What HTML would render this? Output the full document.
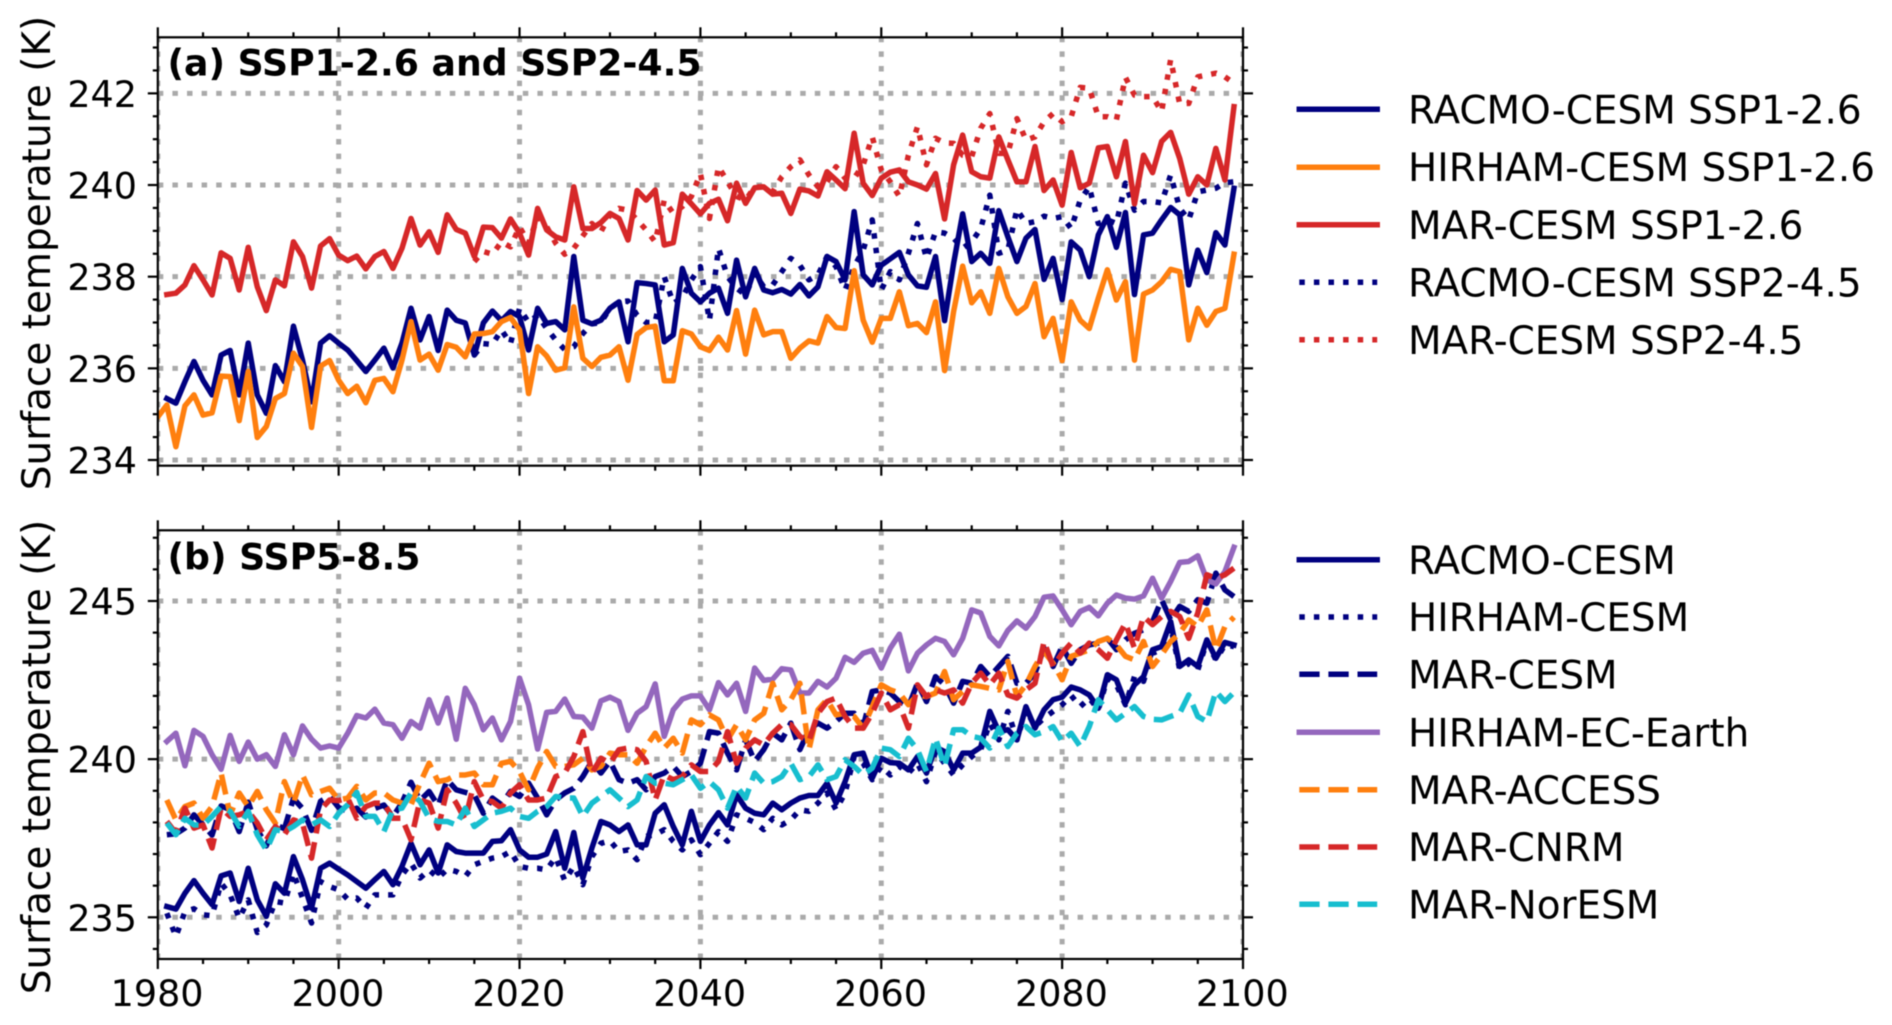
<!DOCTYPE html>
<html lang="en">
<head>
<meta charset="utf-8">
<title>Surface temperature projections</title>
<style>
html,body{margin:0;padding:0;background:#fff;width:1892px;height:1025px;overflow:hidden}
svg{display:block;filter:blur(0.4px)}
text{font-family:"DejaVu Sans",sans-serif;fill:#000}
.tk{font-size:36.5px}
.lg{font-size:38.9px}
.yl{font-size:39px}
.ttl{font-size:36.2px;font-weight:bold}
</style>
</head>
<body>
<svg id="chart" xmlns="http://www.w3.org/2000/svg" width="1892" height="1025" viewBox="0 0 1892 1025">
  <defs>
    <clipPath id="clip-a"><rect x="158" y="37.3" width="1085" height="428.4"/></clipPath>
    <clipPath id="clip-b"><rect x="158" y="530.3" width="1085" height="428.7"/></clipPath>
  </defs>
  <g id="panel-a"></g>
  <g id="panel-b"></g>

  <text class="ttl" x="167.5" y="75.5">(a) SSP1-2.6 and SSP2-4.5</text>
  <text class="ttl" x="167.5" y="569.5">(b) SSP5-8.5</text>
  <text class="yl" text-anchor="middle" transform="translate(50 253) rotate(-90)">Surface temperature (K)</text>
  <text class="yl" text-anchor="middle" transform="translate(50 757) rotate(-90)">Surface temperature (K)</text>

  <g>
    <g><line x1="1299.3" x2="1377.2" y1="109.3" y2="109.3" stroke="#000080" stroke-width="5.5" stroke-linecap="square"/><text class="lg" x="1408" y="123.5">RACMO-CESM SSP1-2.6</text></g>
    <g><line x1="1299.3" x2="1377.2" y1="167.3" y2="167.3" stroke="#ff7f0e" stroke-width="5.5" stroke-linecap="square"/><text class="lg" x="1408" y="181.2">HIRHAM-CESM SSP1-2.6</text></g>
    <g><line x1="1299.3" x2="1377.2" y1="224.7" y2="224.7" stroke="#d62728" stroke-width="5.5" stroke-linecap="square"/><text class="lg" x="1408" y="239">MAR-CESM SSP1-2.6</text></g>
    <g><line x1="1299.3" x2="1377.2" y1="282.3" y2="282.3" stroke="#000080" stroke-width="5.5" stroke-dasharray="5.5 9.1"/><text class="lg" x="1408" y="296.5">RACMO-CESM SSP2-4.5</text></g>
    <g><line x1="1299.3" x2="1377.2" y1="339.7" y2="339.7" stroke="#d62728" stroke-width="5.5" stroke-dasharray="5.5 9.1"/><text class="lg" x="1408" y="354">MAR-CESM SSP2-4.5</text></g>
  </g>
  <g>
    <g><line x1="1299.3" x2="1377.2" y1="559.7" y2="559.7" stroke="#000080" stroke-width="5.5" stroke-linecap="square"/><text class="lg" x="1408" y="574">RACMO-CESM</text></g>
    <g><line x1="1299.3" x2="1377.2" y1="617" y2="617" stroke="#000080" stroke-width="5.5" stroke-dasharray="5.5 9.1"/><text class="lg" x="1408" y="631.2">HIRHAM-CESM</text></g>
    <g><line x1="1299.3" x2="1377.2" y1="674.3" y2="674.3" stroke="#000080" stroke-width="5.5" stroke-dasharray="20.3 8.8"/><text class="lg" x="1408" y="688.5">MAR-CESM</text></g>
    <g><line x1="1299.3" x2="1377.2" y1="732.3" y2="732.3" stroke="#9467bd" stroke-width="5.5" stroke-linecap="square"/><text class="lg" x="1408" y="746.5">HIRHAM-EC-Earth</text></g>
    <g><line x1="1299.3" x2="1377.2" y1="789.7" y2="789.7" stroke="#ff7f0e" stroke-width="5.5" stroke-dasharray="20.3 8.8"/><text class="lg" x="1408" y="804">MAR-ACCESS</text></g>
    <g><line x1="1299.3" x2="1377.2" y1="847" y2="847" stroke="#d62728" stroke-width="5.5" stroke-dasharray="20.3 8.8"/><text class="lg" x="1408" y="861.2">MAR-CNRM</text></g>
    <g><line x1="1299.3" x2="1377.2" y1="904.3" y2="904.3" stroke="#17becf" stroke-width="5.5" stroke-dasharray="20.3 8.8"/><text class="lg" x="1408" y="918.5">MAR-NorESM</text></g>
  </g>
</svg>
<script>
// Axis ticks and labels
const xMajorTicks = [1980, 2000, 2020, 2040, 2060, 2080, 2100];
const xMinorTicks = [1985, 1990, 1995, 2005, 2010, 2015, 2025, 2030, 2035, 2045, 2050, 2055, 2065, 2070, 2075, 2085, 2090, 2095];
const yMajorTicksA = [234, 236, 238, 240, 242];
const yMinorTicksA = [234.5, 235, 235.5, 236.5, 237, 237.5, 238.5, 239, 239.5, 240.5, 241, 241.5, 242.5, 243];
const yMajorTicksB = [235, 240, 245];
const yMinorTicksB = [234, 236, 237, 238, 239, 241, 242, 243, 244, 246, 247];

// Panel (a) series, K per year
const racmoSsp126Start = 1981;
const racmoSsp126 = [
235.34,235.24,235.71,236.15,235.74,235.42,236.29,236.39,235.42,236.55,
235.42,235.02,236.06,235.71,236.92,236.18,235.27,236.55,236.71,236.55,
236.40,236.17,235.93,236.18,236.44,236.01,236.55,237.31,236.62,237.13,
236.39,237.27,237.05,236.99,236.29,236.99,237.25,237.04,237.24,237.13,
236.40,237.31,236.98,237.02,236.84,238.44,237.05,236.97,237.05,237.31,
237.45,236.58,237.87,237.85,237.82,236.58,236.73,238.18,237.64,237.45,
237.64,237.75,237.20,238.36,237.56,238.18,237.71,237.65,237.72,237.62,
237.83,237.58,237.78,238.44,238.33,237.93,239.42,238.04,237.82,238.25,
238.39,238.53,238.04,237.80,237.77,238.44,237.04,238.29,239.37,238.33,
238.51,238.29,239.44,238.87,238.33,238.84,239.03,237.94,238.40,237.50,
238.76,238.58,238.00,238.91,239.31,238.64,239.40,237.61,238.91,238.95,
239.24,239.51,239.35,237.82,238.58,238.09,238.96,238.69,239.93];
const hirhamSsp126Start = 1980;
const hirhamSsp126 = [234.94,
235.20,234.29,235.18,235.42,234.98,235.03,235.83,235.82,234.86,235.93,
234.49,234.73,235.34,235.45,236.33,236.04,234.71,236.05,236.17,235.74,
235.45,235.61,235.25,235.74,235.78,235.49,236.18,237.02,236.18,236.31,
235.96,236.52,236.46,236.25,236.75,236.76,236.80,237.02,237.11,236.84,
235.45,236.47,236.27,235.96,236.01,237.34,236.22,236.04,236.24,236.29,
236.47,235.74,236.74,236.89,236.92,235.73,235.73,236.82,236.75,236.47,
236.39,236.68,236.40,237.26,236.31,237.27,236.73,236.80,236.80,236.22,
236.44,236.60,236.55,237.13,236.89,236.87,238.13,237.05,236.57,237.09,
237.09,237.67,236.93,236.98,236.78,237.45,235.95,237.24,238.23,237.43,
237.67,237.20,238.18,237.56,237.20,237.35,237.85,236.69,237.09,236.17,
237.45,237.05,236.87,237.53,238.15,237.49,237.89,236.18,237.62,237.71,
237.89,238.16,238.11,236.62,237.31,236.94,237.24,237.31,238.49];
const marSsp126Start = 1981;
const marSsp126 = [
237.61,237.64,237.82,238.24,237.93,237.60,238.52,238.40,237.71,238.64,
237.78,237.26,237.93,237.80,238.76,238.44,237.75,238.67,238.83,238.47,
238.35,238.45,238.17,238.44,238.55,238.18,238.62,239.27,238.69,238.98,
238.53,239.35,239.03,238.95,238.44,239.08,239.07,238.84,239.26,238.95,
238.47,239.49,239.02,238.87,238.80,239.96,239.05,239.05,239.18,239.38,
239.27,238.80,239.88,239.67,239.89,238.69,238.74,239.80,239.59,239.37,
239.60,239.69,239.22,240.04,239.60,239.94,239.96,239.80,239.82,239.38,
239.91,239.87,239.76,240.29,240.11,239.92,241.13,240.04,239.77,240.15,
240.28,240.33,240.07,240.00,239.91,240.25,239.26,240.44,241.09,240.29,
240.18,240.15,241.05,240.55,240.07,240.07,240.84,239.88,240.11,239.56,
240.71,239.94,240.04,240.81,240.84,240.18,240.95,239.59,240.65,240.27,
240.95,241.15,240.58,239.80,240.18,240.00,240.80,240.11,241.71];
const racmoSsp245Start = 2015;
const racmoSsp245 = [
236.29,236.54,236.52,236.84,236.54,237.31,
237.00,237.16,236.87,236.62,236.41,236.47,236.76,236.97,237.00,237.31,
237.45,237.47,237.16,237.00,237.00,238.00,237.42,237.54,237.93,238.22,
237.04,238.62,238.00,237.75,237.60,238.07,237.78,237.82,238.11,238.40,
238.25,237.93,238.04,238.44,238.22,237.71,238.22,238.58,239.24,237.71,
238.11,237.93,238.51,239.16,238.40,238.98,238.95,238.84,238.62,238.76,
239.05,239.78,238.51,238.58,239.47,239.16,239.20,239.32,239.27,239.31,
239.05,239.67,239.96,239.16,239.24,239.16,240.04,239.45,239.64,239.64,
239.61,240.22,239.49,239.24,239.85,239.89,239.93,240.05,240.07];
const marSsp245Start = 2015;
const marSsp245 = [
238.33,238.55,238.49,238.76,238.65,239.09,
238.73,239.31,239.09,238.73,238.49,238.62,238.89,239.16,238.98,239.35,
239.49,239.45,239.24,239.02,238.76,239.67,239.38,239.53,239.75,240.25,
239.27,240.40,240.07,239.75,239.67,239.96,239.96,239.85,240.18,240.40,
240.55,240.22,239.96,240.07,240.40,240.15,240.15,240.44,241.05,240.33,
240.07,239.75,240.65,241.27,240.44,241.02,240.92,240.91,240.65,240.62,
241.24,241.56,240.69,240.69,241.45,240.98,241.05,241.38,241.56,241.38,
241.49,242.13,242.11,241.49,241.49,241.42,242.35,241.96,241.93,241.93,
241.60,242.74,241.77,241.78,242.36,242.40,242.44,242.36,242.22];

// Panel (b) series, K per year from 1981
const ssp585Start = 1981;
const racmoCesm = [
235.34,235.26,235.76,236.16,235.76,235.40,236.31,236.40,235.50,236.55,
235.55,235.03,236.06,235.76,236.92,236.19,235.29,236.55,236.71,236.52,
236.34,236.13,235.92,236.19,236.45,236.03,236.61,237.34,236.66,237.13,
236.40,237.29,237.08,237.03,237.03,237.03,237.40,237.42,237.77,237.13,
236.90,236.90,237.00,237.71,236.55,237.68,236.24,237.19,238.03,237.92,
237.71,237.92,237.29,237.29,238.29,238.56,237.87,237.29,238.35,237.40,
237.92,238.31,237.92,238.87,238.45,238.29,238.24,238.61,238.40,238.61,
238.77,238.85,238.85,239.24,238.61,239.29,240.14,240.19,239.40,240.03,
239.89,239.87,239.66,240.08,239.56,240.38,240.24,239.66,240.19,240.19,
240.38,241.51,240.87,240.93,240.61,241.66,240.98,241.56,241.88,241.96,
242.28,242.19,242.03,241.61,242.67,242.51,241.77,242.35,242.61,243.46,
243.56,244.35,242.93,243.14,242.93,243.77,243.19,243.69,243.61];
const hirhamCesm = [
235.13,234.39,235.18,235.27,235.08,235.05,236.08,235.71,234.97,235.55,
234.52,234.76,235.50,235.45,236.40,235.61,234.82,236.13,235.97,235.87,
235.57,235.61,235.29,235.71,235.71,235.71,236.34,236.71,236.24,236.50,
236.24,236.52,236.45,236.29,236.66,236.77,236.87,236.92,237.08,236.61,
236.55,236.55,236.50,236.90,236.16,236.61,236.03,236.92,237.34,237.42,
237.08,237.13,236.82,237.56,237.61,237.77,237.40,237.13,237.45,236.98,
237.34,237.71,237.40,238.24,238.13,238.00,237.77,238.13,237.92,238.08,
238.40,238.35,238.61,238.93,238.40,238.93,240.08,239.87,239.35,239.77,
239.50,239.77,239.56,239.87,239.29,240.24,239.87,239.50,239.82,240.08,
240.30,241.14,240.61,241.51,240.61,241.56,241.03,241.30,241.51,241.72,
242.01,241.66,241.93,241.56,242.56,242.35,241.72,242.61,242.46,243.35,
243.46,244.19,242.84,243.03,242.82,243.72,243.14,243.61,243.56];
const marCesm = [
237.61,237.64,237.82,238.24,237.93,237.60,238.52,238.40,237.71,238.64,
237.78,237.26,237.93,237.80,238.76,238.44,237.75,238.67,238.83,238.47,
238.35,238.45,238.17,238.44,238.55,238.18,238.62,239.27,238.69,238.98,
238.53,239.35,239.03,238.95,238.87,238.29,238.77,238.56,238.98,238.82,
239.24,238.77,238.24,238.71,238.93,239.08,239.45,239.93,239.56,239.93,
239.35,239.24,239.35,239.03,239.45,239.56,239.77,239.45,239.61,239.87,
240.87,240.82,240.19,239.66,240.61,239.93,240.30,240.82,240.61,241.14,
240.30,240.93,241.14,240.98,241.19,241.45,241.45,241.03,242.14,242.19,
242.09,241.82,241.66,242.40,241.82,242.61,242.35,241.77,242.46,242.40,
242.93,242.61,242.93,243.25,242.40,242.40,242.72,243.51,242.93,243.56,
243.03,243.46,243.61,243.67,243.82,243.46,243.77,243.98,244.09,244.35,
245.04,244.40,244.83,244.67,245.04,244.93,245.88,245.35,245.14];
const hirhamEcEarth = [
240.56,240.82,239.79,240.91,240.72,240.14,239.68,240.75,239.93,240.54,
240.00,240.14,239.77,240.77,240.14,241.05,240.63,240.35,240.42,240.35,
240.82,241.38,241.30,241.58,241.14,241.09,240.66,241.19,240.98,241.88,
241.14,241.93,240.63,242.24,241.72,240.93,241.30,240.61,241.19,242.56,
241.72,240.32,241.48,241.51,241.90,241.35,241.33,240.98,241.84,241.96,
241.82,240.91,241.45,241.66,242.38,240.72,241.56,241.90,242.00,242.00,
241.56,242.42,242.03,242.40,241.51,242.88,242.49,242.53,242.86,242.82,
242.09,242.09,242.46,242.28,242.56,243.22,243.06,243.35,243.44,242.88,
243.51,243.95,242.79,243.35,243.61,243.82,243.72,243.30,243.82,244.72,
244.62,243.88,243.58,244.07,244.37,244.14,244.51,245.12,245.16,244.72,
244.25,244.67,244.80,244.53,244.93,245.19,245.09,245.06,245.16,245.72,
245.09,245.62,246.22,246.25,246.43,245.67,245.54,245.93,246.70];
const marAccess = [
238.71,238.08,238.50,238.61,238.13,238.50,239.56,238.24,238.93,238.50,
238.98,238.40,237.98,239.29,238.61,239.50,238.87,238.98,239.08,238.71,
238.77,239.14,238.71,238.93,238.93,238.71,238.61,238.56,239.24,239.87,
239.29,239.35,239.50,239.50,239.56,239.19,239.19,239.87,239.93,239.61,
239.03,239.72,240.24,239.77,239.77,239.82,240.03,239.66,239.77,240.19,
240.14,240.14,239.87,240.40,240.82,240.35,240.66,240.19,241.24,241.09,
241.40,241.24,240.61,241.09,240.61,241.24,241.45,242.40,241.56,241.88,
242.40,240.30,241.56,241.88,241.40,241.45,241.35,240.98,241.66,242.35,
242.19,242.09,241.72,242.03,241.98,242.09,242.77,241.88,242.14,242.35,
242.30,242.24,242.19,243.09,241.98,242.35,242.93,243.40,243.03,242.51,
243.25,243.35,243.46,243.72,243.82,243.61,243.25,243.14,243.72,242.93,
243.30,243.72,243.98,244.40,244.19,244.72,243.46,244.19,244.49];
const marCnrm = [
238.03,237.66,238.45,237.82,237.92,237.19,238.45,238.19,238.24,238.35,
237.98,237.45,237.87,237.61,238.08,237.98,236.87,238.40,238.71,238.69,
238.77,238.13,238.50,238.61,238.61,238.13,238.13,237.45,238.71,238.61,
237.82,239.03,238.61,238.08,239.29,238.71,238.66,238.45,238.93,239.19,
238.71,238.71,238.77,239.45,239.56,240.08,240.87,239.56,240.03,239.87,
240.30,240.35,240.30,239.93,238.71,239.50,239.35,239.45,239.82,239.61,
239.61,239.93,240.87,239.87,240.35,240.61,240.45,240.82,241.09,241.09,
240.72,240.56,241.45,241.82,241.93,241.35,240.98,240.98,241.45,242.09,
241.56,241.72,240.98,242.35,241.98,242.19,242.09,242.19,241.77,242.40,
242.72,242.35,242.72,242.03,241.93,242.19,242.40,243.72,242.93,243.35,
243.67,243.35,243.67,243.46,243.19,243.77,244.30,243.51,244.51,244.25,
244.51,244.67,244.51,243.82,244.62,245.83,245.72,245.83,246.04];
const marNoresm = [
237.98,237.61,238.13,237.92,237.92,238.19,238.50,238.35,237.87,238.35,
237.61,237.13,237.77,237.71,237.87,238.08,237.92,238.08,237.87,238.29,
238.56,238.95,238.19,238.19,237.71,238.40,238.45,238.93,238.66,238.13,
238.03,238.03,237.92,238.45,237.87,238.08,238.29,238.35,238.45,238.19,
238.13,238.35,238.50,238.82,238.77,238.77,238.19,238.61,238.82,239.03,
238.77,238.50,238.71,239.45,239.24,239.24,239.19,239.35,239.50,239.08,
239.29,239.03,238.45,239.14,238.77,239.56,239.24,239.29,239.45,239.87,
239.35,239.45,239.82,239.35,239.45,239.98,239.77,239.50,239.72,240.35,
240.30,240.08,240.66,240.30,239.61,240.66,239.77,240.93,240.93,240.72,
240.66,240.35,240.98,240.40,240.82,241.03,240.77,240.87,241.03,240.56,
240.82,240.40,241.03,241.88,241.56,241.24,241.45,241.66,241.35,241.26,
241.24,241.35,241.45,242.03,241.35,241.19,242.14,241.82,242.11];

const SVGNS = 'http://www.w3.org/2000/svg';
const GRID_COLOR = '#aaaaaa';
const SOLID = 'none';
const DOTTED = '5.5 9.1';
const DASHED = '20.3 8.8';
const plotLeft = 157.8, plotRight = 1243;
function xScale(year) { return plotLeft + (year - 1980) * (plotRight - plotLeft) / 120; }
function yScaleA(k) { return 460 - (k - 234) * 45.83; }
function yScaleB(k) { return 917.3 - (k - 235) * 31.63; }

function mk(parent, tag, attrs) {
  const el = document.createElementNS(SVGNS, tag);
  for (const key in attrs) el.setAttribute(key, attrs[key]);
  parent.appendChild(el);
  return el;
}

function drawSeries(parent, clipId, yScale, start, values, color, dash, name) {
  const pts = values.map(function (v, i) {
    return xScale(start + i).toFixed(2) + ',' + yScale(v).toFixed(2);
  }).join(' ');
  const el = mk(parent, 'polyline', {
    points: pts, fill: 'none', stroke: color, 'stroke-width': 5.5,
    'stroke-linejoin': 'round', 'stroke-linecap': dash === SOLID ? 'square' : 'butt',
    'stroke-dasharray': dash, 'clip-path': 'url(#' + clipId + ')'
  });
  
  
}

function drawFrame(panel, clipId, top, bottom, yScale, yMajor) {
  const grid = mk(panel, 'g', { 'clip-path': 'url(#' + clipId + ')' });
  
  
  yMajor.forEach(function (t) {
    const g = mk(grid, 'line', { x1: plotLeft, x2: plotRight, y1: yScale(t), y2: yScale(t), stroke: GRID_COLOR, 'stroke-width': 5, 'stroke-dasharray': DOTTED });
    
    
  });
  xMajorTicks.forEach(function (t) {
    const g = mk(grid, 'line', { x1: xScale(t), x2: xScale(t), y1: bottom, y2: top, stroke: GRID_COLOR, 'stroke-width': 5, 'stroke-dasharray': DOTTED });
    
    
  });
}

function drawAxes(panel, top, bottom, yScale, yMajor, yMinor, showXLabels) {
  const axes = mk(panel, 'g', { stroke: '#000', 'stroke-width': 2.2 });
  
  
  const frame = mk(axes, 'rect', { x: plotLeft, y: top, width: plotRight - plotLeft, height: bottom - top, fill: 'none' });
  
  
  xMajorTicks.forEach(function (t) {
    mk(axes, 'line', { x1: xScale(t), x2: xScale(t), y1: top, y2: top - 10 });
    mk(axes, 'line', { x1: xScale(t), x2: xScale(t), y1: bottom, y2: bottom + 10 });
  });
  xMinorTicks.forEach(function (t) {
    mk(axes, 'line', { x1: xScale(t), x2: xScale(t), y1: top, y2: top - 5 });
    mk(axes, 'line', { x1: xScale(t), x2: xScale(t), y1: bottom, y2: bottom + 5 });
  });
  yMajor.forEach(function (t) {
    mk(axes, 'line', { x1: plotLeft, x2: plotLeft - 10, y1: yScale(t), y2: yScale(t) });
    mk(axes, 'line', { x1: plotRight, x2: plotRight + 10, y1: yScale(t), y2: yScale(t) });
    const lab = mk(panel, 'text', { x: 137, y: yScale(t) + 13.5, 'text-anchor': 'end', class: 'tk' });
    
    
    lab.textContent = String(t);
  });
  yMinor.forEach(function (t) {
    mk(axes, 'line', { x1: plotLeft, x2: plotLeft - 5, y1: yScale(t), y2: yScale(t) });
    mk(axes, 'line', { x1: plotRight, x2: plotRight + 5, y1: yScale(t), y2: yScale(t) });
  });
  if (showXLabels) {
    xMajorTicks.forEach(function (t) {
      const lab = mk(panel, 'text', { x: xScale(t) - 0.7, y: 1006, 'text-anchor': 'middle', class: 'tk' });
      
      
      lab.textContent = String(t);
    });
  }
}

const panelA = document.getElementById('panel-a');
drawFrame(panelA, 'clip-a', 37.3, 465.7, yScaleA, yMajorTicksA);
drawSeries(panelA, 'clip-a', yScaleA, racmoSsp245Start, racmoSsp245, '#000080', DOTTED, 'series-racmo-cesm-ssp245');
drawSeries(panelA, 'clip-a', yScaleA, marSsp245Start, marSsp245, '#d62728', DOTTED, 'series-mar-cesm-ssp245');
drawSeries(panelA, 'clip-a', yScaleA, racmoSsp126Start, racmoSsp126, '#000080', SOLID, 'series-racmo-cesm-ssp126');
drawSeries(panelA, 'clip-a', yScaleA, hirhamSsp126Start, hirhamSsp126, '#ff7f0e', SOLID, 'series-hirham-cesm-ssp126');
drawSeries(panelA, 'clip-a', yScaleA, marSsp126Start, marSsp126, '#d62728', SOLID, 'series-mar-cesm-ssp126');
drawAxes(panelA, 37.3, 465.7, yScaleA, yMajorTicksA, yMinorTicksA, false);

const panelB = document.getElementById('panel-b');
drawFrame(panelB, 'clip-b', 530.3, 959, yScaleB, yMajorTicksB);
drawSeries(panelB, 'clip-b', yScaleB, ssp585Start, racmoCesm, '#000080', SOLID, 'series-racmo-cesm');
drawSeries(panelB, 'clip-b', yScaleB, ssp585Start, hirhamCesm, '#000080', DOTTED, 'series-hirham-cesm');
drawSeries(panelB, 'clip-b', yScaleB, ssp585Start, marCesm, '#000080', DASHED, 'series-mar-cesm');
drawSeries(panelB, 'clip-b', yScaleB, ssp585Start, hirhamEcEarth, '#9467bd', SOLID, 'series-hirham-ec-earth');
drawSeries(panelB, 'clip-b', yScaleB, ssp585Start, marAccess, '#ff7f0e', DASHED, 'series-mar-access');
drawSeries(panelB, 'clip-b', yScaleB, ssp585Start, marCnrm, '#d62728', DASHED, 'series-mar-cnrm');
drawSeries(panelB, 'clip-b', yScaleB, ssp585Start, marNoresm, '#17becf', DASHED, 'series-mar-noresm');
drawAxes(panelB, 530.3, 959, yScaleB, yMajorTicksB, yMinorTicksB, true);
</script>
</body>
</html>
